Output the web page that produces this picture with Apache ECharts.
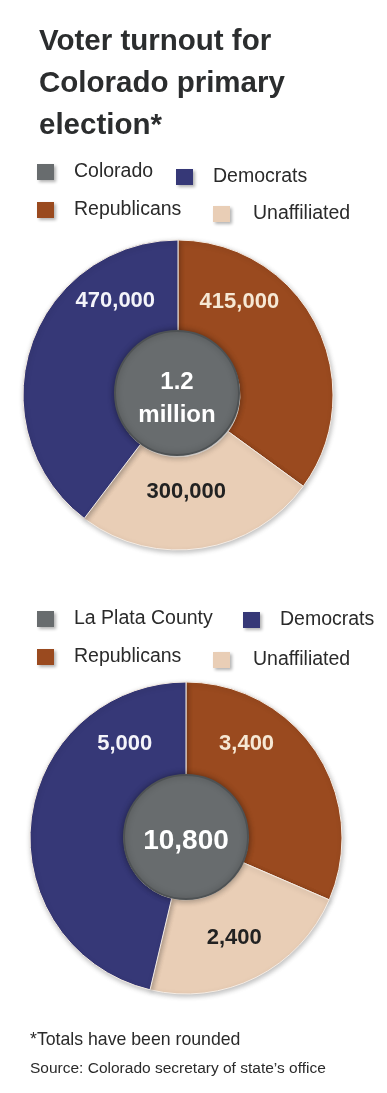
<!DOCTYPE html>
<html>
<head>
<meta charset="utf-8">
<script src="https://cdn.jsdelivr.net/npm/echarts@6/dist/echarts.min.js"></script>
<style>
html,body{margin:0;padding:0;background:#fff;}
#chart{width:387px;height:1093px;}
</style>
</head>
<body>
<div id="chart"></div>
<script>
// ---- data ----
const titleText = 'Voter turnout for\nColorado primary\nelection*';
const footnote = '*Totals have been rounded';
const sourceText = 'Source: Colorado secretary of state\u2019s office';

const regions = ['Colorado', 'La Plata County'];
const totals = [1200000, 10800];
const totalLabels = ['1.2\nmillion', '10,800'];

const parties = ['Republicans', 'Unaffiliated', 'Democrats'];
const coloradoVotes = [415000, 300000, 470000];
const laPlataVotes = [3400, 2400, 5000];

// ---- styles ----
const FONT = "'Liberation Sans', Arial, sans-serif";
const partyColors = { Republicans: '#9a4a1f', Unaffiliated: '#e9ceb6', Democrats: '#363877' };
const labelColors = { Republicans: '#f6e8d4', Unaffiliated: '#222222', Democrats: '#f4f4fa' };
const greyColor = '#686c6e';

function fmt(v) { return v.toLocaleString('en-US'); }

function partySeries(values, center, radius, offsets) {
  return {
    type: 'pie',
    center: center,
    radius: radius,
    startAngle: 90,
    clockwise: true,
    silent: true,
    z: 2,
    itemStyle: {
      borderColor: '#f5ece4',
      borderWidth: 1,
      shadowBlur: 5,
      shadowOffsetX: 1,
      shadowOffsetY: 2,
      shadowColor: 'rgba(0,0,0,0.25)'
    },
    labelLine: { show: false },
    data: parties.map((p, i) => ({
      name: p,
      value: values[i],
      itemStyle: { color: partyColors[p] },
      label: {
        show: true,
        position: 'inside',
        formatter: fmt(values[i]),
        color: labelColors[p],
        fontFamily: FONT,
        fontWeight: 'bold',
        fontSize: 22,
        offset: offsets[i]
      }
    }))
  };
}

function centerSeries(idx, center, r, fontSize, lineHeight, offset) {
  return {
    type: 'pie',
    center: center,
    radius: [0, r],
    silent: true,
    z: 5,
    itemStyle: {
      color: greyColor,
      borderColor: '#4e5254',
      borderWidth: 2,
      shadowBlur: 6,
      shadowColor: 'rgba(0,0,0,0.35)'
    },
    label: {
      show: true,
      position: 'center',
      formatter: totalLabels[idx],
      color: '#ffffff',
      fontFamily: FONT,
      fontWeight: 'bold',
      fontSize: fontSize,
      lineHeight: lineHeight,
      offset: offset
    },
    labelLine: { show: false },
    data: [{ name: regions[idx], value: totals[idx] }]
  };
}

function legendItem(name, left, top, gap) {
  return {
    data: [name],
    left: left,
    top: top,
    icon: 'rect',
    itemWidth: 17,
    itemHeight: 16,
    itemGap: 0,
    padding: 0,
    selectedMode: false,
    itemStyle: {
      borderWidth: 0,
      shadowBlur: 3,
      shadowOffsetX: 2,
      shadowOffsetY: 2,
      shadowColor: 'rgba(0,0,0,0.3)'
    },
    textStyle: {
      fontFamily: FONT,
      fontSize: 19.5,
      color: '#2a2a2a',
      padding: [0, 0, 0, gap]
    }
  };
}

const chart = echarts.init(document.getElementById('chart'), null, { renderer: 'canvas' });

chart.setOption({
  backgroundColor: '#ffffff',
  animation: false,
  title: [
    {
      text: titleText,
      left: 34,
      top: 16,
      textStyle: {
        fontFamily: FONT,
        fontWeight: 'bold',
        fontSize: 29.5,
        lineHeight: 42,
        color: '#2b2d2e'
      }
    },
    {
      text: footnote,
      left: 25,
      top: 1026,
      textStyle: { fontFamily: FONT, fontWeight: 'normal', fontSize: 17.7, color: '#2a2a2a' }
    },
    {
      text: sourceText,
      left: 25,
      top: 1056,
      textStyle: { fontFamily: FONT, fontWeight: 'normal', fontSize: 15.5, color: '#2a2a2a' }
    }
  ],
  legend: [
    legendItem(regions[0], 37, 162, 15),
    legendItem('Democrats', 176, 167, 15),
    legendItem('Republicans', 37, 200, 15),
    legendItem('Unaffiliated', 213, 204, 18),
    legendItem(regions[1], 37, 609, 15),
    legendItem('Democrats', 243, 610, 15),
    legendItem('Republicans', 37, 647, 15),
    legendItem('Unaffiliated', 213, 650, 18)
  ],
  series: [
    partySeries(coloradoVotes, [178, 395], [62, 155], [[-38, -43], [-8, -13], [43, -58]]),
    centerSeries(0, [177, 393], 62, 24, 33, [0, 6]),
    partySeries(laPlataVotes, [186, 838], [62, 156], [[-33, -33], [-2, 0], [50, -81]]),
    centerSeries(1, [186, 837], 62, 28, 32, [0, 4])
  ]
});
</script>
</body>
</html>
